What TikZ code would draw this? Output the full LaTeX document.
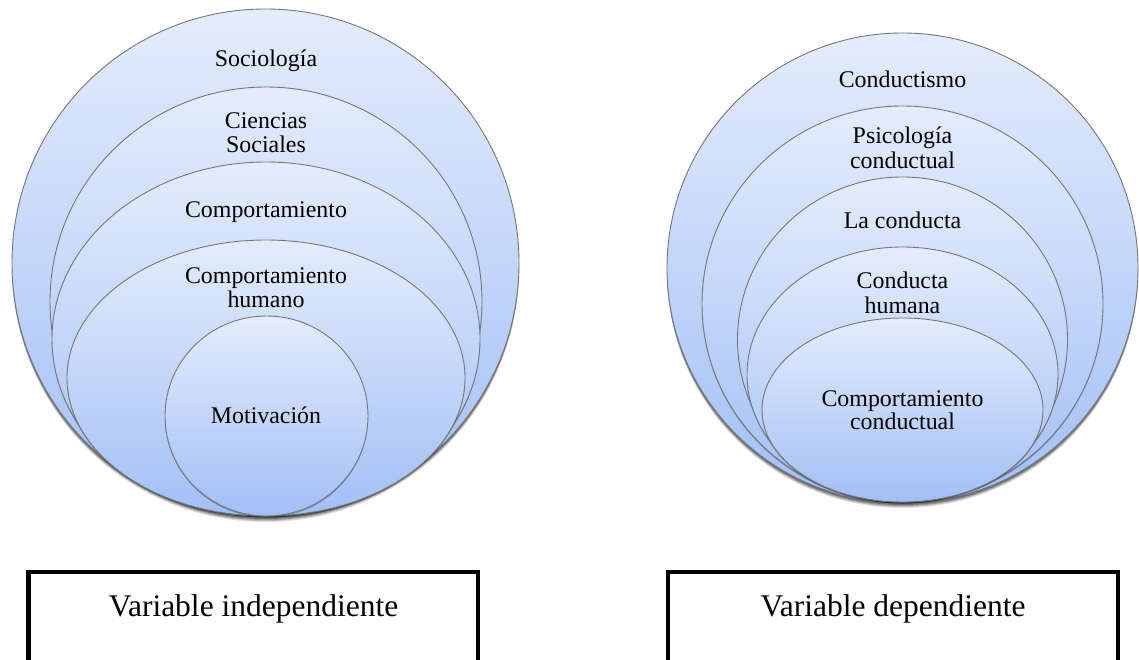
\documentclass[tikz,border=0pt]{standalone}
\usepackage{fontspec}
\setmainfont{Liberation Serif}
\definecolor{bubtop}{RGB}{228,236,252}
\definecolor{bubbot}{RGB}{162,191,246}
\definecolor{bubline}{RGB}{118,118,118}
\tikzset{
  bubble/.style={draw=bubline, line width=0.9pt, top color=bubtop, bottom color=bubbot},
  softshadow/.style={fill=black, opacity=#1},
  lbl/.style={font=\fontsize{23.9}{24}\selectfont, anchor=base, inner sep=0pt},
  boxlbl/.style={font=\fontsize{31.5}{34}\selectfont, anchor=base, inner sep=0pt},
  varbox/.style={draw=black, line width=4.5pt},
}
\begin{document}
\begin{tikzpicture}[x=1pt,y=-1pt]
\clip (0,0) rectangle (1139,660);
\fill[white] (0,0) rectangle (1139,660);
% ---- left nested bubbles
\foreach \d/\o in {5/0.12,4/0.15,3/0.2,2/0.25}{
  \path[softshadow=\o] (265.5,263+\d) ellipse [x radius=253.5, y radius=254];
}
\path[bubble] (265.5,263) ellipse [x radius=253.5, y radius=254];
\foreach \cy/\rx/\ry in {301.5/216/214.5, 339/214/177, 378/199/138}{
  \path[softshadow=0.25] (266,\cy+1.5) ellipse [x radius=\rx, y radius=\ry];
  \path[bubble] (266,\cy) ellipse [x radius=\rx, y radius=\ry];
}
\path[softshadow=0.25] (266.5,417.5) ellipse [x radius=101.5, y radius=100];
\path[bubble] (266.5,416) ellipse [x radius=101.5, y radius=100];
\node[lbl] (soc) at (266,67) {Sociología};
\node[lbl] (cs1) at (266,129) {Ciencias};
\node[lbl] (cs2) at (266,153) {Sociales};
\node[lbl] (comp) at (266,218) {Comportamiento};
\node[lbl] (ch1) at (266,283) {Comportamiento};
\node[lbl] (ch2) at (266,307) {humano};
\node[lbl] (mot) at (266,423) {Motivación};
% ---- right nested bubbles
\foreach \d/\o in {5/0.12,4/0.15,3/0.2,2/0.25}{
  \path[softshadow=\o] (902.5,268+\d) ellipse [x radius=235.5, y radius=235];
}
\path[bubble] (902.5,268) ellipse [x radius=235.5, y radius=235];
\foreach \cy/\rx/\ry in {304/200.5/198, 339.5/165/162.5, 374.5/155.5/127.5, 410/140.5/92}{
  \path[softshadow=0.25] (902.5,\cy+1.5) ellipse [x radius=\rx, y radius=\ry];
  \path[bubble] (902.5,\cy) ellipse [x radius=\rx, y radius=\ry];
}
\node[lbl] (cond) at (902.5,88) {Conductismo};
\node[lbl] (ps1) at (902.5,144) {Psicología};
\node[lbl] (ps2) at (902.5,169) {conductual};
\node[lbl] (lac) at (902.5,229) {La conducta};
\node[lbl] (hu1) at (902.5,288) {Conducta};
\node[lbl] (hu2) at (902.5,313) {humana};
\node[lbl] (cc1) at (902.5,406) {Comportamiento};
\node[lbl] (cc2) at (902.5,429) {conductual};
% ---- variable boxes
\draw[varbox] (28.5,572) rectangle (478,700);
\draw[varbox] (668,572) rectangle (1118,700);
\node[boxlbl] (vi) at (253.5,616) {Variable independiente};
\node[boxlbl] (vd) at (893,616) {Variable dependiente};
\end{tikzpicture}
\end{document}
